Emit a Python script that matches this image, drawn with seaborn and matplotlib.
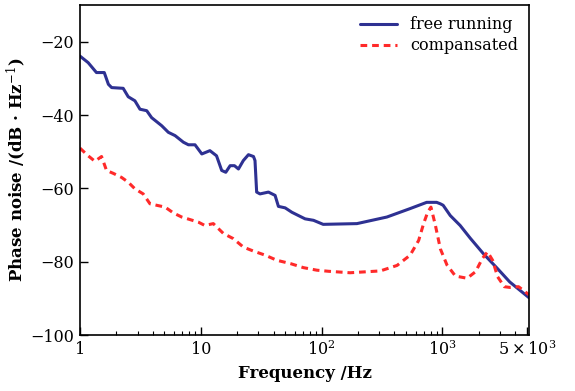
import numpy as np
import pandas as pd
import matplotlib
matplotlib.use("Agg")
import matplotlib.pyplot as plt
from matplotlib.ticker import FixedLocator, FixedFormatter, LogLocator, NullFormatter
import seaborn as sns

# free running phase noise
free_freq = [1, 1.17, 1.37, 1.59, 1.72, 1.83, 2.28, 2.51, 2.85, 3.14, 3.57, 3.92,
             4.75, 5.39, 6.13, 7.18, 7.9, 8.96, 10.2, 11.9, 13.5, 14.9, 16.1, 17.5,
             19.0, 20.5, 22.5, 24.8, 27.3, 28.1, 29.0, 30.9, 36.3, 41.2, 43.9, 49.9,
             56.7, 64.3, 73.0, 85.7, 103, 196, 347, 540, 740, 895, 961, 1013, 1160,
             1400, 1700, 2180, 2860, 3600, 5200]
free_db = [-23.9, -25.7, -28.4, -28.4, -31.6, -32.5, -32.7, -35.0, -36.1, -38.4, -38.8, -40.7,
           -42.9, -44.7, -45.6, -47.4, -48.1, -48.1, -50.6, -49.7, -51.1, -55.1, -55.6, -53.8,
           -53.8, -54.7, -52.4, -50.8, -51.3, -52.4, -61.0, -61.5, -61.0, -61.9, -64.9, -65.3,
           -66.5, -67.4, -68.3, -68.7, -69.8, -69.6, -67.8, -65.5, -63.8, -63.8, -64.2, -64.6, -67.4,
           -70.1, -73.6, -77.8, -81.9, -85.5, -89.8]

# compensated phase noise
comp_freq = [1, 1.17, 1.33, 1.51, 1.66, 1.89, 2.21, 2.51, 2.85, 3.34, 3.80, 4.32, 5.07,
             5.94, 6.95, 8.15, 9.55, 10.8, 12.7, 15.4, 18.6, 22.5, 27.3, 34.1, 42.6, 55.2,
             70.6, 91.3, 114, 172, 306, 421, 540, 635, 698, 754, 803, 873, 961, 1090, 1280,
             1600, 1880, 2140, 2360, 2600, 2860, 3250, 3600, 4260, 5200]
comp_db = [-49.0, -51.1, -52.6, -51.3, -55.1, -55.9, -57.0, -58.3, -60.1, -61.5, -64.2, -64.6, -65.1,
           -66.7, -67.8, -68.5, -69.2, -70.1, -69.6, -72.3, -73.7, -76.0, -77.1, -78.2, -79.6, -80.5,
           -81.6, -82.3, -82.6, -83.0, -82.5, -81.0, -78.2, -74.2, -69.6, -66.5, -65.1, -70.0, -76.5,
           -80.9, -83.9, -84.5, -82.7, -79.1, -77.3, -79.6, -84.1, -86.8, -87.0, -86.8, -89.0]

sns.set_style("ticks")
plt.rcParams["font.family"] = ["DejaVu Serif"]
plt.rcParams["mathtext.fontset"] = "dejavuserif"
plt.rcParams["text.color"] = "black"
plt.rcParams["axes.labelcolor"] = "black"
plt.rcParams["xtick.color"] = "black"
plt.rcParams["ytick.color"] = "black"
plt.rcParams["axes.edgecolor"] = "black"

df = pd.concat([
    pd.DataFrame({"f": free_freq, "db": free_db, "s": "free running"}),
    pd.DataFrame({"f": comp_freq, "db": comp_db, "s": "compansated"}),
])

fig = plt.figure(figsize=(5.75, 3.91), dpi=100)
ax = fig.add_axes([0.139, 0.143, 0.781, 0.844])

sns.lineplot(data=df, x="f", y="db", hue="s", style="s",
             palette={"free running": "#2e3192", "compansated": "#ff2a2a"},
             dashes={"free running": "", "compansated": (2.2, 1.6)},
             linewidth=2.2, sort=False, estimator=None, ax=ax)

ax.set_xscale("log")
ax.set_xlim(1, 5200)
ax.set_ylim(-100, -10)

ax.xaxis.set_major_locator(FixedLocator([1, 10, 100, 1000, 5000]))
ax.xaxis.set_major_formatter(FixedFormatter(["1", "10", "$10^2$", "$10^3$", r"$5\times10^3$"]))
ax.xaxis.set_minor_locator(LogLocator(base=10, subs=np.arange(2, 10), numticks=20))
ax.xaxis.set_minor_formatter(NullFormatter())
ax.set_yticks([-100, -80, -60, -40, -20])
ax.set_yticklabels(["\u2212100", "\u221280", "\u221260", "\u221240", "\u221220"])

ax.tick_params(which="major", direction="in", length=5.5, width=1, labelsize=11.5, pad=4)
ax.tick_params(which="minor", direction="in", length=3, width=0.8)
for sp in ax.spines.values():
    sp.set_linewidth(1.2)
    sp.set_color("black")

ax.set_xlabel("Frequency /Hz", fontsize=12, fontweight="bold", labelpad=4)
ax.set_ylabel("Phase noise /(dB \u00b7 Hz$^{-1}$)", fontsize=12, fontweight="bold", labelpad=2)

leg = ax.legend(loc="upper right", frameon=False, fontsize=11.5, handlelength=2.3,
                borderaxespad=0.3, labelspacing=0.25)

plt.savefig("out.png", dpi=100)
